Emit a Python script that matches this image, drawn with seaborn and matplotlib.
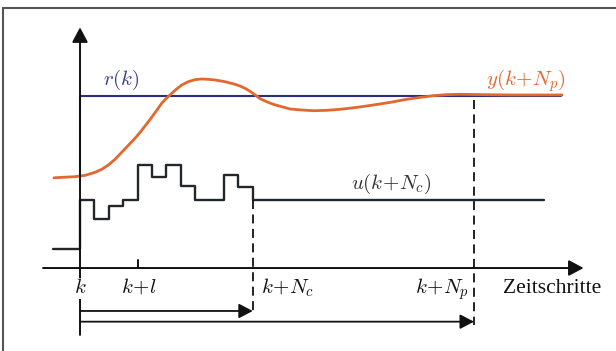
import numpy as np
import pandas as pd
import matplotlib
matplotlib.use("Agg")
import matplotlib.pyplot as plt
import seaborn as sns

# ---- data (x in sampling steps relative to k, y in units of the reference r) ----
u_steps = [-1.9, 0, 1, 2, 3, 4, 5, 6, 7, 8, 9, 10, 11, 12, 32.2]
u_vals = [0.108, 0.394, 0.284, 0.359, 0.394, 0.597, 0.526, 0.597, 0.477,
          0.394, 0.394, 0.541, 0.468, 0.394, 0.394]

y_steps = [-1.81, -0.347, 0.347, 1.042, 1.505, 1.968, 2.431, 2.894, 3.356,
           3.819, 4.282, 4.745, 5.208, 5.671, 6.019, 6.25, 6.597, 7.06, 7.523,
           7.986, 8.449, 8.912, 9.375, 10.069, 10.764, 11.111, 11.5, 11.85,
           12.15, 12.5, 12.963, 13.426, 14.005, 14.583, 15.394, 16.204, 17.13,
           18.056, 19.213, 20.37, 21.528, 22.685, 23.611, 24.537, 25.463,
           26.389, 28.0, 30.0, 33.47]
y_vals = [0.523, 0.5295, 0.537, 0.5546, 0.572, 0.597, 0.630, 0.6705, 0.711,
          0.7517, 0.798, 0.848, 0.900, 0.9546, 0.9855, 1.003, 1.030, 1.061,
          1.080, 1.092, 1.0957, 1.0937, 1.090, 1.080, 1.065, 1.055, 1.040,
          1.022, 1.004, 0.9816, 0.964, 0.949, 0.935, 0.922, 0.916, 0.912,
          0.914, 0.920, 0.931, 0.945, 0.960, 0.978, 0.989, 0.999, 1.005,
          1.007, 1.005, 1.003, 1.003]

r_steps = [0.0, 0.0, 33.4]
r_vals = [0.528, 1.0, 1.0]

N_l = 4
N_c = 12
N_p = 27.36

tick_pos = [0, N_l, N_c, N_p]
tick_labels = [r"$k$", r"$k\!+\!l$", r"$k\!+\!N_c$", r"$k\!+\!N_p$"]

# ---- style ----
sns.set_style("white")
plt.rcParams["mathtext.fontset"] = "cm"
plt.rcParams["font.family"] = ["Liberation Serif", "DejaVu Serif"]

ORANGE = "#e2682d"
NAVY = "#2b2f7d"
DARK = "#23272b"
AX = "#111111"

fig = plt.figure(figsize=(6.16, 3.51), dpi=100)
ax = fig.add_axes([0, 0, 1, 1])
ax.set_xlim(-5.556, 37.222)
ax.set_ylim(-0.481, 1.5536)
ax.axis("off")

df_r = pd.DataFrame({"t": r_steps, "v": r_vals})
df_y = pd.DataFrame({"t": y_steps, "v": y_vals})
df_u = pd.DataFrame({"t": u_steps, "v": u_vals})

sns.lineplot(data=df_u, x="t", y="v", ax=ax, color=DARK, lw=1.7,
             estimator=None, sort=False, drawstyle="steps-post")
sns.lineplot(data=df_r, x="t", y="v", ax=ax, color=NAVY, lw=1.5,
             estimator=None, sort=False)
sns.lineplot(data=df_y, x="t", y="v", ax=ax, color=ORANGE, lw=2.0,
             estimator=None, sort=False)

# axes with arrows
arrow_kw = dict(arrowstyle="-|>,head_length=0.45,head_width=0.24",
                mutation_scale=20, lw=1.4, color=AX, shrinkA=0, shrinkB=0)
ax.annotate("", xy=(34.97, 0), xytext=(-2.57, 0), arrowprops=arrow_kw)
ax.annotate("", xy=(0, 1.395), xytext=(0, -0.388), arrowprops=arrow_kw)
ax.plot([N_l, N_l], [0, 0.046], color=AX, lw=1.4)

# horizons
ax.plot([N_c, N_c], [0.394, -0.261], color=AX, lw=1.3, ls=(0, (5, 3)))
ax.plot([N_p, N_p], [0.974, -0.330], color=AX, lw=1.3, ls=(0, (5, 3)))
arrow_kw2 = dict(arrowstyle="-|>,head_length=0.42,head_width=0.22",
                 mutation_scale=20, lw=1.3, color=AX, shrinkA=0, shrinkB=0)
ax.annotate("", xy=(N_c, -0.249), xytext=(0, -0.249), arrowprops=arrow_kw2)
ax.annotate("", xy=(N_p, -0.311), xytext=(0, -0.311), arrowprops=arrow_kw2)

# tick labels
base = -0.145
fs = 15
ax.text(tick_pos[0], base, tick_labels[0], ha="center", va="baseline", fontsize=fs, color=AX,
        bbox=dict(facecolor="white", edgecolor="none", pad=0.5), zorder=5)
ax.text(tick_pos[1] + 0.1, base, tick_labels[1], ha="center", va="baseline", fontsize=fs, color=AX)
ax.text(tick_pos[2] + 0.55, base, tick_labels[2], ha="left", va="baseline", fontsize=fs, color=AX)
ax.text(tick_pos[3] - 0.33, base, tick_labels[3], ha="right", va="baseline", fontsize=fs, color=AX)
ax.text(29.4, base, "Zeitschritte", ha="left", va="baseline", fontsize=15.5, color=AX)

# series labels
ax.text(2.86, 1.061, r"$r(k)$", ha="center", va="baseline", fontsize=fs, color="#363b8a")
ax.text(31.0, 1.061, r"$y(k\!+\!N_p)$", ha="center", va="baseline", fontsize=fs, color=ORANGE)
ax.text(21.6, 0.458, r"$u(k\!+\!N_c)$", ha="center", va="baseline", fontsize=fs, color="#333333")

# frame
ax.plot([0.0054, 1.0], [0.9786, 0.9786], transform=ax.transAxes, color="#555555", lw=1.5, clip_on=False)
ax.plot([0.0054, 0.0054], [0.0, 0.9786], transform=ax.transAxes, color="#555555", lw=1.5, clip_on=False)

fig.savefig("out.png", dpi=100)
